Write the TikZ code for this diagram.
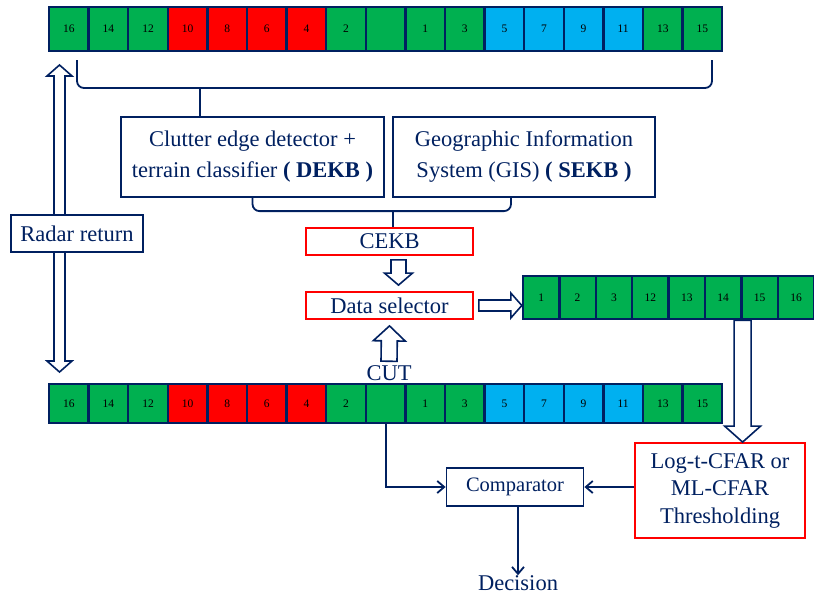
\documentclass[tikz,border=0pt]{standalone}
\usepackage{fontspec}
\setmainfont{Liberation Serif}
\usetikzlibrary{calc,arrows.meta}

\definecolor{navy}{RGB}{0,32,96}
\definecolor{grn}{RGB}{0,176,80}
\definecolor{rd}{RGB}{255,0,0}
\definecolor{sky}{RGB}{0,176,240}

\tikzset{
  cell/.style={draw=navy, line width=2.4pt, minimum width=39.6pt, minimum height=44pt, inner sep=0pt, font=\fontsize{11.5}{12}\selectfont},
  box/.style={draw=navy, line width=1.8pt, text=navy, inner sep=0pt, align=center, font=\fontsize{22.5}{31}\selectfont},
  redbox/.style={box, draw=rd},
  label/.style={text=navy, inner sep=0pt, font=\fontsize{22.5}{27}\selectfont},
  brace/.style={draw=navy, line width=1.8pt, rounded corners=7pt},
  link/.style={draw=navy, line width=1.8pt, -{Straight Barb[length=7pt,width=12pt]}},
  fat/.style={draw=navy, line width=1.6pt, fill=white, line join=miter},
}

% hollow arrow: from, to, shaft half width, head half width, head length
\newcommand{\fatarrow}[5]{%
  \path ($(#2)!#5!(#1)$) coordinate (fa-b);
  \draw[fat] ($(#1)!#3!90:(#2)$) -- ($(fa-b)!#3!-90:(#1)$) -- ($(fa-b)!#4!-90:(#1)$) -- (#2)
    -- ($(fa-b)!#4!90:(#1)$) -- ($(fa-b)!#3!90:(#1)$) -- ($(#1)!#3!-90:(#2)$) -- cycle;
}
% hollow arrow with two heads
\newcommand{\fatdouble}[5]{%
  \path ($(#2)!#5!(#1)$) coordinate (fa-b) ($(#1)!#5!(#2)$) coordinate (fa-a);
  \draw[fat] (#1) -- ($(fa-a)!#4!90:(#2)$) -- ($(fa-a)!#3!90:(#2)$) -- ($(fa-b)!#3!-90:(#1)$)
    -- ($(fa-b)!#4!-90:(#1)$) -- (#2) -- ($(fa-b)!#4!90:(#1)$) -- ($(fa-b)!#3!90:(#1)$)
    -- ($(fa-a)!#3!-90:(#2)$) -- ($(fa-a)!#4!-90:(#2)$) -- cycle;
}

\begin{document}
\begin{tikzpicture}[x=1pt, y=-1pt]
\useasboundingbox (0,0) rectangle (814,598);

\def \xs    {49}
\def \cw    {39.6}
\def \ytop  {29}
\def \ybot  {403.5}
\def \xsel  {523}
\def \sw    {36.4}
\def \ysel  {297.5}

% reference window, top
\foreach \lab/\col [count=\i] in {16/grn,14/grn,12/grn,10/rd,8/rd,6/rd,4/rd,2/grn,{}/grn,1/grn,3/grn,5/sky,7/sky,9/sky,11/sky,13/grn,15/grn}
  \node [cell, fill=\col] (t\i) at ({\xs + (\i-0.5)*\cw}, \ytop) {\lab};

% reference window, bottom
\foreach \lab/\col [count=\i] in {16/grn,14/grn,12/grn,10/rd,8/rd,6/rd,4/rd,2/grn,{}/grn,1/grn,3/grn,5/sky,7/sky,9/sky,11/sky,13/grn,15/grn}
  \node [cell, fill=\col, minimum height=39pt] (b\i) at ({\xs + (\i-0.5)*\cw}, \ybot) {\lab};

% selected cells
\foreach \lab [count=\i] in {1,2,3,12,13,14,15,16}
  \node [cell, fill=grn, minimum width=\sw pt, minimum height=43pt] (s\i) at ({\xsel + (\i-0.5)*\sw}, \ysel) {\lab};

% knowledge bases
\node [box, minimum width=263pt, minimum height=80pt] (dekb) at (252.5,157)
  {Clutter edge detector +\\terrain classifier \textbf{( DEKB )}};
\node [box, minimum width=262pt, minimum height=80pt] (gis) at (524,157)
  {Geographic Information\\System (GIS) \textbf{( SEKB )}};
\node [redbox, minimum width=167pt, minimum height=27pt] (cekb) at (389.5,241.5) {CEKB};
\node [redbox, minimum width=167pt, minimum height=27pt] (ds) at (389.5,305.5) {Data selector};

\node [label] (cut) at (389,373) {CUT};
\node [box, minimum width=137pt, minimum height=38pt, font=\fontsize{20.5}{24}\selectfont] (comp) at (515,487) {Comparator};
\node [redbox, minimum width=170pt, minimum height=95pt, font=\fontsize{22.5}{27.5}\selectfont] (log) at (720,490.5)
  {Log-t-CFAR or\\ML-CFAR\\Thresholding};
\node [label] (dec) at (518,583) {Decision};

% upper brace
\coordinate (tb-l) at (77,60);
\coordinate (tb-r) at (712,60);
\coordinate (tb-tip) at (200,88);
\draw [brace] (tb-l) |- (tb-tip) -| (tb-r);
\draw [brace] (tb-tip) -- (tb-tip |- dekb.north);

% lower brace
\coordinate (jt) at ($(cekb.north)+(3.5,-16)$);
\draw [brace] (dekb.south) |- (jt) -| ($(gis.south)+(-13,0)$);
\draw [brace] (jt) -- (jt |- cekb.north);

% hollow arrows
\fatarrow{$(cekb.south)+(9,4)$}{$(ds.north)+(9,-6)$}{7.5pt}{14pt}{12pt}
\fatarrow{$(ds.east)+(5,0)$}{s1.west |- ds.east}{5.5pt}{12.5pt}{11pt}
\fatarrow{$(cut.north)+(0,-4)$}{$(ds.south)+(0,6)$}{8pt}{16pt}{15pt}
\fatarrow{s6.south east}{log.north -| s6.south east}{8.5pt}{18pt}{16pt}

% radar return
\coordinate (rr-t) at (59.5,65);
\coordinate (rr-b) at (59.5,372);
\fatdouble{rr-t}{rr-b}{5.5pt}{12.5pt}{11pt}
\node [box, fill=white, minimum width=132pt, minimum height=37pt] (rr) at (77,233.5) {Radar return};

% comparator links
\draw [link] (b9.south) |- (comp.west);
\draw [link] (log.west |- comp.east) -- (comp.east);
\draw [link] (dec.north |- comp.south) -- (dec.north);

\end{tikzpicture}
\end{document}
